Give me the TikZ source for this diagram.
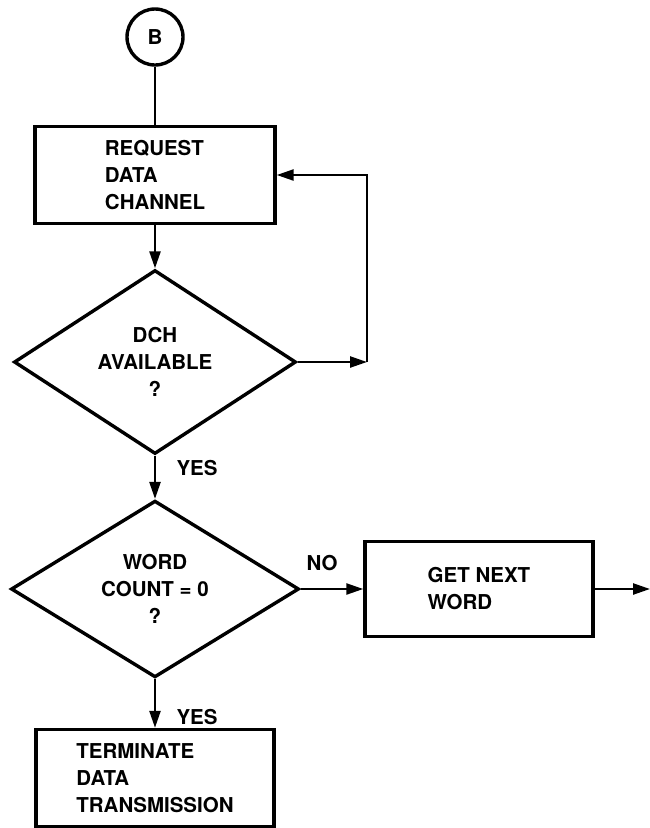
\documentclass[tikz,border=0pt]{standalone}
\usepackage{fontspec}
\setmainfont{TeX Gyre Heros}
\usetikzlibrary{shapes.geometric,arrows.meta}

\begin{document}
\begin{tikzpicture}[x=1pt,y=-1pt,
  every node/.style={font=\fontsize{20.5}{27}\selectfont\bfseries},
  box/.style={draw,rectangle,line width=3.4pt,align=left,inner sep=0pt},
  decision/.style={draw,diamond,line width=3.4pt,align=center,inner sep=0pt},
  flow/.style={line width=2.4pt,-{Triangle[length=17pt,width=11pt]}}]
  \useasboundingbox (0,0) rectangle (650,828);
  \draw (155,37) node[circle,draw,line width=3.4pt,minimum size=56pt,inner sep=0pt] (B) {B};
  \draw (155,175) node[box,minimum width=240pt,minimum height=97pt] (req) {REQUEST\\DATA\\CHANNEL};
  \draw (155,362) node[decision,minimum width=282pt,minimum height=162pt] (dch) {DCH\\AVAILABLE\\?};
  \draw (155,589) node[decision,minimum width=288pt,minimum height=170pt] (wc) {WORD\\COUNT = 0\\?};
  \draw (479,589) node[box,minimum width=228pt,minimum height=95pt] (getw) {GET NEXT\\WORD};
  \draw (155,778) node[box,minimum width=238pt,minimum height=97pt] (term) {TERMINATE\\DATA\\TRANSMISSION};
  \coordinate (loop) at (367,362);
  \coordinate (out) at (650,589);
  \draw[line width=2.4pt] (B) -- (req);
  \draw[flow] (req) -- (dch);
  \draw[flow] (dch.east) -- (loop);
  \draw[flow] (loop) |- (req.east);
  \draw[flow] (dch.south) -- (wc.north);
  \draw[flow] (wc.east) -- (getw.west);
  \draw[flow] (getw.east) -- (out);
  \draw[flow] (wc.south) -- (term.north);
  \node[anchor=west] (yes1) at (173,468) {YES};
  \node (no) at (322,563) {NO};
  \node[anchor=west] (yes2) at (173,717) {YES};
\end{tikzpicture}
\end{document}
